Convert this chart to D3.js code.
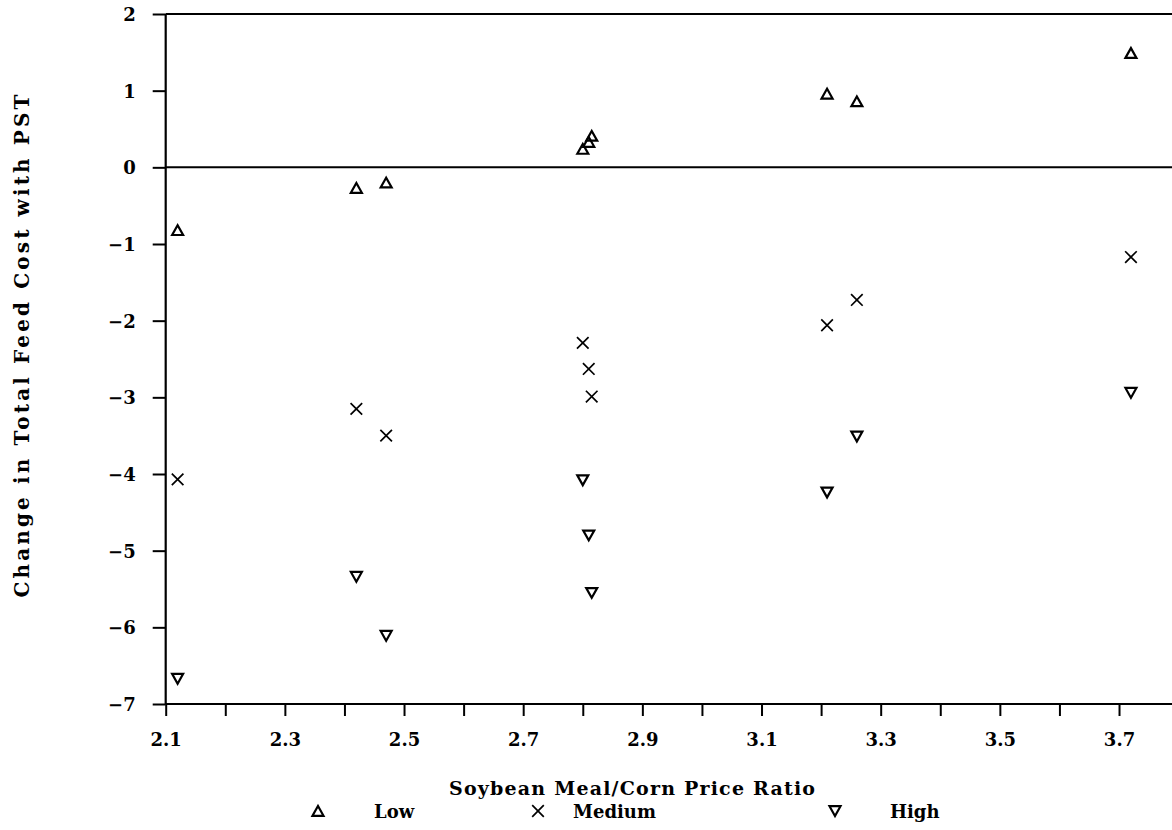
<!DOCTYPE html>
<html>
<head>
<meta charset="utf-8">
<script src="https://cdn.jsdelivr.net/npm/d3@7"></script>
<style>
  html, body { margin: 0; padding: 0; background: #fff; }
  svg { display: block; }
  text { font-family: "DejaVu Serif", serif; font-weight: bold; fill: #000; }
</style>
</head>
<body>
<svg id="chart" width="1172" height="830"></svg>
<script>
// Soybean meal / corn price ratio for each observation
const priceRatio = [2.12, 2.42, 2.47, 2.80, 2.81, 2.815, 3.21, 3.26, 3.72];

// Change in total feed cost with PST, one array per PST level
const lowPST    = [-0.82, -0.27, -0.20, 0.24, 0.33, 0.41, 0.96, 0.86, 1.49];
const mediumPST = [-4.07, -3.15, -3.50, -2.29, -2.63, -2.99, -2.06, -1.73, -1.17];
const highPST   = [-6.67, -5.34, -6.11, -4.08, -4.80, -5.55, -4.24, -3.51, -2.94];

const seriesNames = ["Low", "Medium", "High"];
const seriesSymbols = ["up", "cross", "down"];

// Axis ticks
const xTickValues = d3.range(21, 39).map(d => d / 10);          // 2.1 … 3.8
const xTickLabels = ["2.1", "2.3", "2.5", "2.7", "2.9", "3.1", "3.3", "3.5", "3.7"];
const yTickValues = [-7, -6, -5, -4, -3, -2, -1, 0, 1, 2];

const xTitle = "Soybean Meal/Corn Price Ratio";
const yTitle = "Change in Total Feed Cost with PST";

const svg = d3.select("#chart");
svg.append("rect").attr("width", 1172).attr("height", 830).attr("fill", "#fff");

const x = d3.scaleLinear().domain([2.1, 3.8]).range([165.7, 1178.6]);
const y = d3.scaleLinear().domain([-7, 2]).range([704, 14]);

// Marker shapes
function markerPath(kind) {
  if (kind === "up")   return "M-5.5,4.8L0,-5L5.5,4.8Z";
  if (kind === "down") return "M-5.5,-4.8L5.5,-4.8L0,5Z";
  return "M-5.8,-5.8L5.8,5.8M-5.8,5.8L5.8,-5.8";
}
function styleMarker(sel, kind) {
  sel.attr("d", markerPath(kind))
     .attr("fill", "none")
     .attr("stroke", "#000")
     .attr("stroke-width", kind === "cross" ? 1.7 : 2.2)
     .attr("stroke-linejoin", "miter");
}

// X axis
const xAxis = d3.axisBottom(x)
  .tickValues(xTickValues)
  .tickSize(12)
  .tickFormat(d => {
    const s = d3.format(".1f")(d);
    return xTickLabels.includes(s) ? s : "";
  });
const gx = svg.append("g").attr("transform", `translate(0,${y(-7)})`).call(xAxis);
gx.select(".domain").remove();
gx.selectAll(".tick line").attr("stroke", "#000").attr("stroke-width", 2);
gx.selectAll(".tick text")
  .attr("y", 42).attr("dy", null)
  .style("font-size", "18px").style("font-family", "DejaVu Serif").style("font-weight", "bold");

// Y axis
const yAxis = d3.axisLeft(y).tickValues(yTickValues).tickSize(13).tickPadding(17).tickFormat(d3.format("d"));
const gy = svg.append("g").attr("transform", `translate(${x(2.1)},0)`).call(yAxis);
gy.select(".domain").remove();
gy.selectAll(".tick line").attr("stroke", "#000").attr("stroke-width", 2);
gy.selectAll(".tick text")
  .attr("dy", "0.36em")
  .style("font-size", "18px").style("font-family", "DejaVu Serif").style("font-weight", "bold");

// Frame lines: left axis, top edge, zero reference, bottom axis
svg.append("line")
  .attr("x1", x(2.1)).attr("x2", x(2.1))
  .attr("y1", y(2)).attr("y2", y(-7))
  .attr("stroke", "#000").attr("stroke-width", 2.2);
svg.selectAll("line.hline").data([2, 0, -7]).join("line")
  .attr("class", "hline")
  .attr("x1", x(2.1)).attr("x2", x(3.8))
  .attr("y1", d => y(d)).attr("y2", d => y(d))
  .attr("stroke", "#000").attr("stroke-width", 2);

// Points
const seriesValues = [lowPST, mediumPST, highPST];
seriesValues.forEach((vals, i) => {
  svg.append("g").selectAll("path")
    .data(vals.map((v, j) => ({ r: priceRatio[j], v })))
    .join("path")
    .attr("transform", d => `translate(${x(d.r)},${y(d.v)})`)
    .call(styleMarker, seriesSymbols[i]);
});

// Axis titles
svg.append("text")
  .attr("x", 632).attr("y", 795)
  .attr("text-anchor", "middle")
  .attr("textLength", 366).attr("lengthAdjust", "spacing")
  .style("font-size", "19px")
  .text(xTitle);

svg.append("text")
  .attr("transform", "translate(29,346) rotate(-90)")
  .attr("text-anchor", "middle")
  .attr("textLength", 503).attr("lengthAdjust", "spacing")
  .style("font-size", "20px")
  .text(yTitle);

// Legend
const legendMarkerX = [318, 538, 835];
const legendTextX = [374, 573, 890];
seriesNames.forEach((name, i) => {
  svg.append("path")
    .attr("transform", `translate(${legendMarkerX[i]},811)`)
    .call(styleMarker, seriesSymbols[i]);
  svg.append("text")
    .attr("x", legendTextX[i]).attr("y", 818)
    .style("font-size", "18px")
    .text(name);
});
</script>
</body>
</html>
